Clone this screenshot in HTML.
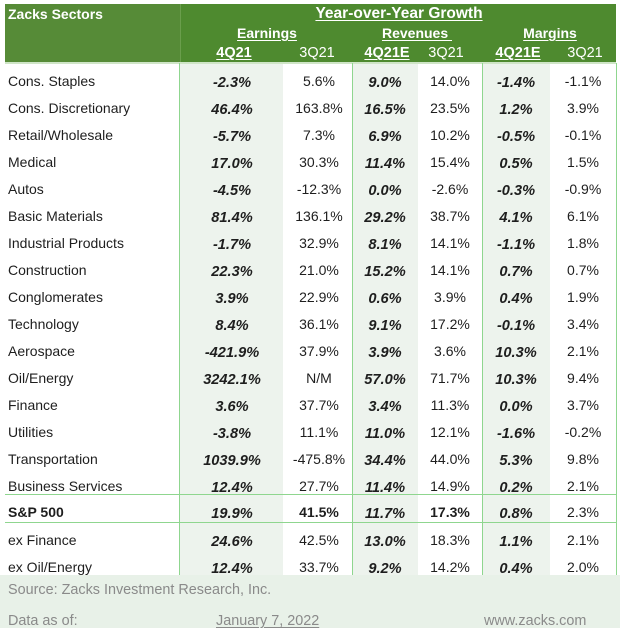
<!DOCTYPE html>
<html><head><meta charset="utf-8">
<style>
html,body{margin:0;padding:0;background:#fff;}
body{width:620px;height:637px;position:relative;overflow:hidden;font-family:"Liberation Sans",Arial,sans-serif;color:#1e1e1e;}
.a{position:absolute;}
.r{position:absolute;left:0;width:620px;height:16px;line-height:16px;font-size:14px;}
.r span{position:absolute;top:0;white-space:nowrap;}
.l{left:8px;}
.c1{left:182px;width:100px;text-align:center;}
.c2{left:269px;width:100px;text-align:center;}
.c3{left:335px;width:100px;text-align:center;}
.c4{left:400px;width:100px;text-align:center;}
.c5{left:466px;width:100px;text-align:center;}
.c6{left:533px;width:100px;text-align:center;}
.r span.b{font-weight:bold;font-style:italic;font-size:14.6px;top:2px;}
.bb{font-weight:bold;}
.h{position:absolute;color:#fff;font-size:14px;line-height:16px;white-space:nowrap;}
.u{text-decoration:underline;text-underline-offset:2px;}
.vl{position:absolute;top:63px;height:512px;width:1px;background:#8fd68f;}
.hl{position:absolute;left:5px;width:612px;height:1px;background:#8fd68f;}
.f{position:absolute;color:#8a8a8a;font-size:14.4px;line-height:16px;white-space:nowrap;}
</style></head><body>
<!-- header -->
<div class="a" style="left:5px;top:4px;width:611px;height:58px;background:#4e8a2f;"></div>
<div class="a" style="left:5px;top:4px;width:175px;height:58px;background:#568b37;"></div>
<div class="a" style="left:180px;top:4px;width:1px;height:58px;background:#6a9e4c;"></div>
<div class="a" style="left:5px;top:62px;width:611px;height:2px;background:#cfe5c7;"></div>
<div class="h bb" style="left:8px;top:6px;">Zacks Sectors</div>
<div class="h bb u" style="left:299px;top:6px;width:200px;text-align:center;font-size:15.5px;">Year-over-Year Growth</div>
<div class="h bb u" style="left:217px;top:25px;width:100px;text-align:center;">Earnings</div>
<div class="h bb u" style="left:367px;top:25px;width:100px;text-align:center;">Revenues&nbsp;</div>
<div class="h bb u" style="left:500px;top:25px;width:100px;text-align:center;">Margins</div>
<div class="h bb u" style="left:184px;top:45px;width:100px;text-align:center;font-size:14.5px;">4Q21</div>
<div class="h" style="left:267px;top:45px;width:100px;text-align:center;font-size:14.5px;">3Q21</div>
<div class="h bb u" style="left:337px;top:45px;width:100px;text-align:center;font-size:14.5px;">4Q21E</div>
<div class="h" style="left:396px;top:45px;width:100px;text-align:center;font-size:14.5px;">3Q21</div>
<div class="h bb u" style="left:468px;top:45px;width:100px;text-align:center;font-size:14.5px;">4Q21E</div>
<div class="h" style="left:535px;top:45px;width:100px;text-align:center;font-size:14.5px;">3Q21</div>
<!-- body column backgrounds -->
<div class="a" style="left:180px;top:64px;width:103px;height:511px;background:#edf3ed;"></div>
<div class="a" style="left:353px;top:64px;width:65px;height:511px;background:#edf3ed;"></div>
<div class="a" style="left:483px;top:64px;width:67px;height:511px;background:#edf3ed;"></div>
<div class="vl" style="left:179px;"></div>
<div class="vl" style="left:352px;"></div>
<div class="vl" style="left:482px;"></div>
<div class="vl" style="left:616px;"></div>
<div class="hl" style="top:494px;"></div>
<div class="hl" style="top:522px;"></div>
<!-- rows -->
<div class="r" style="top:73px"><span class="l">Cons. Staples</span><span class="c1 b">-2.3%</span><span class="c2">5.6%</span><span class="c3 b">9.0%</span><span class="c4">14.0%</span><span class="c5 b">-1.4%</span><span class="c6">-1.1%</span></div>
<div class="r" style="top:100px"><span class="l">Cons. Discretionary</span><span class="c1 b">46.4%</span><span class="c2">163.8%</span><span class="c3 b">16.5%</span><span class="c4">23.5%</span><span class="c5 b">1.2%</span><span class="c6">3.9%</span></div>
<div class="r" style="top:127px"><span class="l">Retail/Wholesale</span><span class="c1 b">-5.7%</span><span class="c2">7.3%</span><span class="c3 b">6.9%</span><span class="c4">10.2%</span><span class="c5 b">-0.5%</span><span class="c6">-0.1%</span></div>
<div class="r" style="top:154px"><span class="l">Medical</span><span class="c1 b">17.0%</span><span class="c2">30.3%</span><span class="c3 b">11.4%</span><span class="c4">15.4%</span><span class="c5 b">0.5%</span><span class="c6">1.5%</span></div>
<div class="r" style="top:181px"><span class="l">Autos</span><span class="c1 b">-4.5%</span><span class="c2">-12.3%</span><span class="c3 b">0.0%</span><span class="c4">-2.6%</span><span class="c5 b">-0.3%</span><span class="c6">-0.9%</span></div>
<div class="r" style="top:208px"><span class="l">Basic Materials</span><span class="c1 b">81.4%</span><span class="c2">136.1%</span><span class="c3 b">29.2%</span><span class="c4">38.7%</span><span class="c5 b">4.1%</span><span class="c6">6.1%</span></div>
<div class="r" style="top:235px"><span class="l">Industrial Products</span><span class="c1 b">-1.7%</span><span class="c2">32.9%</span><span class="c3 b">8.1%</span><span class="c4">14.1%</span><span class="c5 b">-1.1%</span><span class="c6">1.8%</span></div>
<div class="r" style="top:262px"><span class="l">Construction</span><span class="c1 b">22.3%</span><span class="c2">21.0%</span><span class="c3 b">15.2%</span><span class="c4">14.1%</span><span class="c5 b">0.7%</span><span class="c6">0.7%</span></div>
<div class="r" style="top:289px"><span class="l">Conglomerates</span><span class="c1 b">3.9%</span><span class="c2">22.9%</span><span class="c3 b">0.6%</span><span class="c4">3.9%</span><span class="c5 b">0.4%</span><span class="c6">1.9%</span></div>
<div class="r" style="top:316px"><span class="l">Technology</span><span class="c1 b">8.4%</span><span class="c2">36.1%</span><span class="c3 b">9.1%</span><span class="c4">17.2%</span><span class="c5 b">-0.1%</span><span class="c6">3.4%</span></div>
<div class="r" style="top:343px"><span class="l">Aerospace</span><span class="c1 b">-421.9%</span><span class="c2">37.9%</span><span class="c3 b">3.9%</span><span class="c4">3.6%</span><span class="c5 b">10.3%</span><span class="c6">2.1%</span></div>
<div class="r" style="top:370px"><span class="l">Oil/Energy</span><span class="c1 b">3242.1%</span><span class="c2">N/M</span><span class="c3 b">57.0%</span><span class="c4">71.7%</span><span class="c5 b">10.3%</span><span class="c6">9.4%</span></div>
<div class="r" style="top:397px"><span class="l">Finance</span><span class="c1 b">3.6%</span><span class="c2">37.7%</span><span class="c3 b">3.4%</span><span class="c4">11.3%</span><span class="c5 b">0.0%</span><span class="c6">3.7%</span></div>
<div class="r" style="top:424px"><span class="l">Utilities</span><span class="c1 b">-3.8%</span><span class="c2">11.1%</span><span class="c3 b">11.0%</span><span class="c4">12.1%</span><span class="c5 b">-1.6%</span><span class="c6">-0.2%</span></div>
<div class="r" style="top:451px"><span class="l">Transportation</span><span class="c1 b">1039.9%</span><span class="c2">-475.8%</span><span class="c3 b">34.4%</span><span class="c4">44.0%</span><span class="c5 b">5.3%</span><span class="c6">9.8%</span></div>
<div class="r" style="top:478px"><span class="l">Business Services</span><span class="c1 b">12.4%</span><span class="c2">27.7%</span><span class="c3 b">11.4%</span><span class="c4">14.9%</span><span class="c5 b">0.2%</span><span class="c6">2.1%</span></div>
<div class="r" style="top:504px"><span class="l bb">S&amp;P 500</span><span class="c1 b">19.9%</span><span class="c2 bb">41.5%</span><span class="c3 b">11.7%</span><span class="c4 bb">17.3%</span><span class="c5 b">0.8%</span><span class="c6">2.3%</span></div>
<div class="r" style="top:532px"><span class="l">ex Finance</span><span class="c1 b">24.6%</span><span class="c2">42.5%</span><span class="c3 b">13.0%</span><span class="c4">18.3%</span><span class="c5 b">1.1%</span><span class="c6">2.1%</span></div>
<div class="r" style="top:559px"><span class="l">ex Oil/Energy</span><span class="c1 b">12.4%</span><span class="c2">33.7%</span><span class="c3 b">9.2%</span><span class="c4">14.2%</span><span class="c5 b">0.4%</span><span class="c6">2.0%</span></div>
<!-- footer -->
<div class="a" style="left:0;top:575px;width:620px;height:53px;background:#e8f1e8;"></div>
<div class="f" style="left:8px;top:582px;">Source: Zacks Investment Research, Inc.</div>
<div class="f" style="left:8px;top:613px;">Data as of:</div>
<div class="f u" style="left:216px;top:613px;">January 7, 2022</div>
<div class="f" style="left:484px;top:613px;">www.zacks.com</div>
</body></html>
